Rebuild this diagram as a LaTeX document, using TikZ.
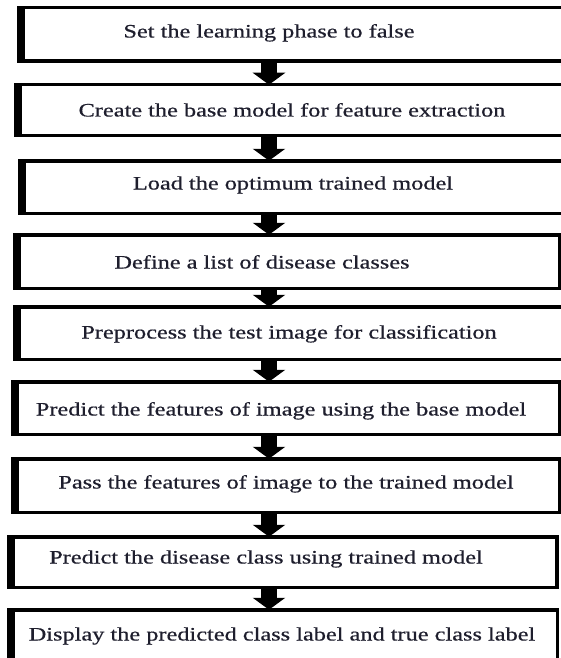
\documentclass[tikz,border=0pt]{standalone}
\usepackage{fontspec}
\setmainfont{Liberation Serif}[FakeStretch=1.28, FakeBold=0.6]
\usetikzlibrary{arrows.meta}
\definecolor{txtgray}{RGB}{30,30,45}

\begin{document}
\begin{tikzpicture}[
    x=1pt, y=-1pt,
    stepbox/.style={draw, line width=3.5pt, outer sep=0pt, inner sep=0pt},
    steptxt/.style={anchor=base, inner sep=0pt, text=txtgray,
                    font=\fontsize{19}{22}\selectfont},
    leftrule/.style={line width=4pt},
    arrow/.style={-{Triangle[width=32pt, length=12pt]}, line width=16pt},
]
\useasboundingbox (0,0) rectangle (561,658);
\clip (0,0) rectangle (561,658);

% ── Step boxes ───────────────────────────────────────────────────────────
\node[stepbox, minimum width=554.5pt, minimum height=53.5pt] (b1) at (296,34.5) {};
\node[stepbox, minimum width=557.5pt, minimum height=50.5pt] (b2) at (294.5,110) {};
\node[stepbox, minimum width=553.5pt, minimum height=52.5pt] (b3) at (296.5,187) {};
\node[stepbox, minimum width=544.5pt, minimum height=53.5pt] (b4) at (287,261.5) {};
\node[stepbox, minimum width=558.5pt, minimum height=52.5pt] (b5) at (294,333) {};
\node[stepbox, minimum width=546.5pt, minimum height=52.5pt] (b6) at (286,408) {};
\node[stepbox, minimum width=546.5pt, minimum height=53.5pt] (b7) at (286,485.5) {};
\node[stepbox, minimum width=548pt,   minimum height=50.5pt] (b8) at (282.75,562) {};
\node[stepbox, minimum width=548.5pt, minimum height=58.5pt] (b9) at (283,639) {};

% heavier left edge
\foreach \i in {1,...,9} {
    \draw[leftrule] ([xshift=3.75pt]b\i.north west) -- ([xshift=3.75pt]b\i.south west);
}

% ── Step texts ───────────────────────────────────────────────────────────
\node[steptxt] (t1) at (269,37.5)  {Set the learning phase to false};
\node[steptxt] (t2) at (292,116.5) {Create the base model for feature extraction};
\node[steptxt] (t3) at (293,189.5) {Load the optimum trained model};
\node[steptxt] (t4) at (262,268.5) {Define a list of disease classes};
\node[steptxt] (t5) at (289,338.5) {Preprocess the test image for classification};
\node[steptxt] (t6) at (281,415.5) {Predict the features of image using the base model};
\node[steptxt] (t7) at (286,488.5) {Pass the features of image to the trained model};
\node[steptxt] (t8) at (266,563.5) {Predict the disease class using trained model};
\node[steptxt] (t9) at (282,640.5) {Display the predicted class label and true class label};

% ── Arrows ───────────────────────────────────────────────────────────────
\coordinate (axis) at (269,0);
\foreach \a/\b in {b1/b2, b2/b3, b3/b4, b4/b5, b5/b6, b6/b7, b7/b8, b8/b9} {
    \draw[arrow] (\a.south -| axis) -- (\b.north -| axis);
}

\end{tikzpicture}
\end{document}
